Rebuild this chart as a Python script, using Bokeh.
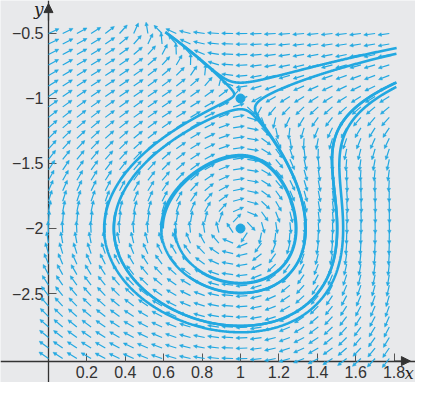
import numpy as np
from bokeh.plotting import figure
from bokeh.models import Range1d, FixedTicker, Arrow, NormalHead, ColumnDataSource, Label
from bokeh.embed import file_html
from bokeh.resources import INLINE

# ---- data ----
# autonomous system whose direction field is drawn
def rhs(x, y):
    return -(x + y) * (y + 2.0), y * (x - 1.0)

critical_x = [1.0, 1.0]
critical_y = [-1.0, -2.0]

field_x = np.linspace(0.0, 1.775, 25)
field_y = np.linspace(-0.5, -3.0, 32)

traj_start_x = [1.8, 1.8, 1.8, 1.8, 0.595, 0.34]
traj_start_y = [-0.615, -0.66, -0.885, -0.92, -2.0, -2.0]
traj_turns_fwd = [1.5, 1.5, 1.5, 1.5, 1.0, 0.02]
traj_turns_bwd = [0.1, 0.1, 0.1, 0.1, 0.0, 1.0]

x_ticks = [0.2, 0.4, 0.6, 0.8, 1.0, 1.2, 1.4, 1.6, 1.8]
x_labels = ["0.2", "0.4", "0.6", "0.8", "1", "1.2", "1.4", "1.6", "1.8"]
y_ticks = [-0.5, -1.0, -1.5, -2.0, -2.5]
y_labels = ["\u22120.5", "\u22121", "\u22121.5", "\u22122", "\u22122.5"]

# ---- layout ----
W, H = 415, 382
X0, X1 = -0.25, 1.9115
Y0, Y1 = -3.1846, -0.2462
SX = W / (X1 - X0)
SY = H / (Y1 - Y0)
C = "#22a8e1"
BG = "#e8e9eb"
ARROW_LEN = 11.5

p = figure(width=W, height=H, x_range=Range1d(X0, X1), y_range=Range1d(Y0, Y1),
           output_backend="svg", toolbar_location=None, min_border=0,
           background_fill_color=BG, border_fill_color=BG, outline_line_color=None)
p.grid.visible = False

# direction field
gx, gy = np.meshgrid(field_x, field_y)
fx, fy = rhs(gx, gy)
px, py = fx * SX, fy * SY
mag = np.hypot(px, py)
mag[mag == 0] = 1.0
ux, uy = px / mag, py / mag
x_end = gx + ARROW_LEN * ux / SX
y_end = gy + ARROW_LEN * uy / SY
src = ColumnDataSource(dict(x0=gx.ravel(), y0=gy.ravel(), x1=x_end.ravel(), y1=y_end.ravel()))
p.add_layout(Arrow(end=NormalHead(size=3.5, fill_color=C, line_color=C, line_width=0.5),
                   x_start="x0", y_start="y0", x_end="x1", y_end="y1", source=src,
                   line_color=C, line_width=1.2))

# trajectories
def integrate(x, y, sgn, turns, dt=0.004, nmax=25000):
    xs, ys = [x], [y]
    prev = np.arctan2((y + 2.0) * SY, (x - 1.0) * SX)
    total = 0.0
    def f(a, b):
        u, v = rhs(a, b)
        return sgn * u, sgn * v
    for _ in range(nmax):
        if turns <= 0:
            break
        k1 = f(x, y)
        k2 = f(x + dt / 2 * k1[0], y + dt / 2 * k1[1])
        k3 = f(x + dt / 2 * k2[0], y + dt / 2 * k2[1])
        k4 = f(x + dt * k3[0], y + dt * k3[1])
        x = x + dt / 6 * (k1[0] + 2 * k2[0] + 2 * k3[0] + k4[0])
        y = y + dt / 6 * (k1[1] + 2 * k2[1] + 2 * k3[1] + k4[1])
        xs.append(x); ys.append(y)
        if x < 0 or x > 1.81 or y > -0.49 or y < -3.0:
            break
        a = np.arctan2((y + 2.0) * SY, (x - 1.0) * SX)
        d = (a - prev + np.pi) % (2 * np.pi) - np.pi
        total += d
        prev = a
        if abs(total) >= turns * 2 * np.pi:
            break
    return xs, ys

txs, tys = [], []
for x0, y0, tf, tb in zip(traj_start_x, traj_start_y, traj_turns_fwd, traj_turns_bwd):
    bx, by = integrate(x0, y0, -1.0, tb)
    fxs, fys = integrate(x0, y0, 1.0, tf)
    txs.append(bx[::-1] + fxs[1:])
    tys.append(by[::-1] + fys[1:])
p.multi_line(txs, tys, line_color=C, line_width=2.6)

p.scatter(critical_x, critical_y, size=9, color=C)

# axes
p.xaxis.fixed_location = -3.02
p.yaxis.fixed_location = 0.0
p.xaxis.ticker = FixedTicker(ticks=x_ticks)
p.yaxis.ticker = FixedTicker(ticks=y_ticks)
p.xaxis.major_label_overrides = {t: l for t, l in zip(x_ticks, x_labels)}
p.yaxis.major_label_overrides = {t: l for t, l in zip(y_ticks, y_labels)}
for ax in (p.xaxis, p.yaxis):
    ax.axis_line_color = "#333333"
    ax.axis_line_width = 1.3
    ax.major_tick_line_color = "#555555"
    ax.major_tick_in = 8
    ax.major_tick_out = 0
    ax.minor_tick_line_color = None
    ax.major_label_text_font = "Liberation Sans"
    ax.major_label_text_font_size = "16px"
    ax.major_label_text_color = "#333333"
    ax.major_label_standoff = 5

p.add_layout(Arrow(end=NormalHead(size=9, fill_color="#333333", line_color="#333333"),
                   x_start=0.0, y_start=-0.4, x_end=0.0, y_end=-0.27,
                   line_color="#333333", line_width=1.3))
p.add_layout(Arrow(end=NormalHead(size=9, fill_color="#333333", line_color="#333333"),
                   x_start=1.8, y_start=-3.02, x_end=1.885, y_end=-3.02,
                   line_color="#333333", line_width=1.3))
p.add_layout(Label(x=-0.025, y=-0.31, text="y", text_font="DejaVu Serif", text_font_style="italic",
                   text_font_size="17px", text_color="#222222", text_align="right", text_baseline="middle"))
p.add_layout(Label(x=1.903, y=-3.045, text="x", text_font="DejaVu Serif", text_font_style="italic",
                   text_font_size="16px", text_color="#222222", text_align="right", text_baseline="top"))

open("out.html", "w").write(file_html(p, INLINE))
